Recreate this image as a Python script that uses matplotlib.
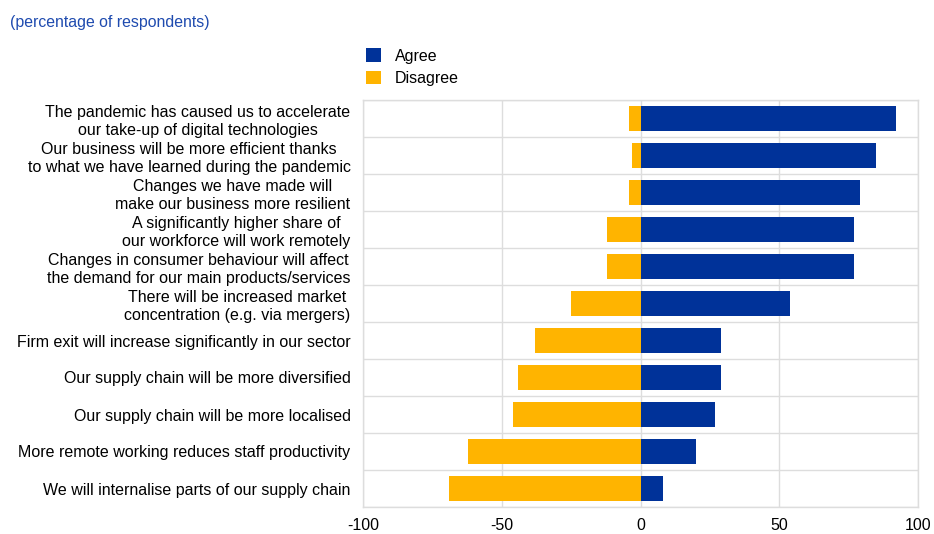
import matplotlib
matplotlib.use("Agg")
import matplotlib.pyplot as plt
import numpy as np

plt.rcParams['font.family'] = ['Liberation Sans', 'DejaVu Sans']

categories = [
    "The pandemic has caused us to accelerate\nour take-up of digital technologies",
    "Our business will be more efficient thanks\nto what we have learned during the pandemic",
    "Changes we have made will\nmake our business more resilient",
    "A significantly higher share of\nour workforce will work remotely",
    "Changes in consumer behaviour will affect\nthe demand for our main products/services",
    "There will be increased market\nconcentration (e.g. via mergers)",
    "Firm exit will increase significantly in our sector",
    "Our supply chain will be more diversified",
    "Our supply chain will be more localised",
    "More remote working reduces staff productivity",
    "We will internalise parts of our supply chain",
]
agree = [92, 85, 79, 77, 77, 54, 29, 29, 27, 20, 8]
disagree = [-4, -3, -4, -12, -12, -25, -38, -44, -46, -62, -69]
xticks = [-100, -50, 0, 50, 100]

blue = "#003299"
yellow = "#FFB400"
grid = "#DDDDDD"

fig = plt.figure(figsize=(9.34, 5.34), dpi=100)
ax = fig.add_axes([363/934, 1-507/534, (918-363)/934, (507-100)/534])

y = np.arange(len(categories))
ax.barh(y, agree, height=0.7, color=blue, label="Agree", zorder=3)
ax.barh(y, disagree, height=0.7, color=yellow, label="Disagree", zorder=3)

ax.set_ylim(len(categories) - 0.5, -0.5)
ax.set_xlim(-100, 100)
ax.set_xticks(xticks)
ax.set_xticklabels([str(t) for t in xticks], fontsize=11.5)
ax.set_yticks(y)
ax.set_yticklabels(categories, fontsize=11.5, multialignment='center', linespacing=1.25)
ax.tick_params(length=0, pad=12)
ax.tick_params(axis='y', pad=9)
ax.tick_params(axis='x', pad=8)

for b in np.arange(-0.5, len(categories) + 0.5, 1):
    ax.axhline(b, color=grid, lw=1, zorder=1)
for t in xticks:
    ax.axvline(t, color=grid, lw=1, zorder=1)
for s in ax.spines.values():
    s.set_color(grid)
    s.set_linewidth(1)

fig.text(10/934, 1-22/534, "(percentage of respondents)", color="#1F4BAF", fontsize=11.4, va='center', ha='left')

leg = fig.legend(loc='upper left', bbox_to_anchor=(352/934, 1-34/534), frameon=False,
                 fontsize=11.5, handlelength=0.9, handleheight=0.9, handletextpad=0.9,
                 labelspacing=0.45)

fig.savefig("out.png", dpi=100)
